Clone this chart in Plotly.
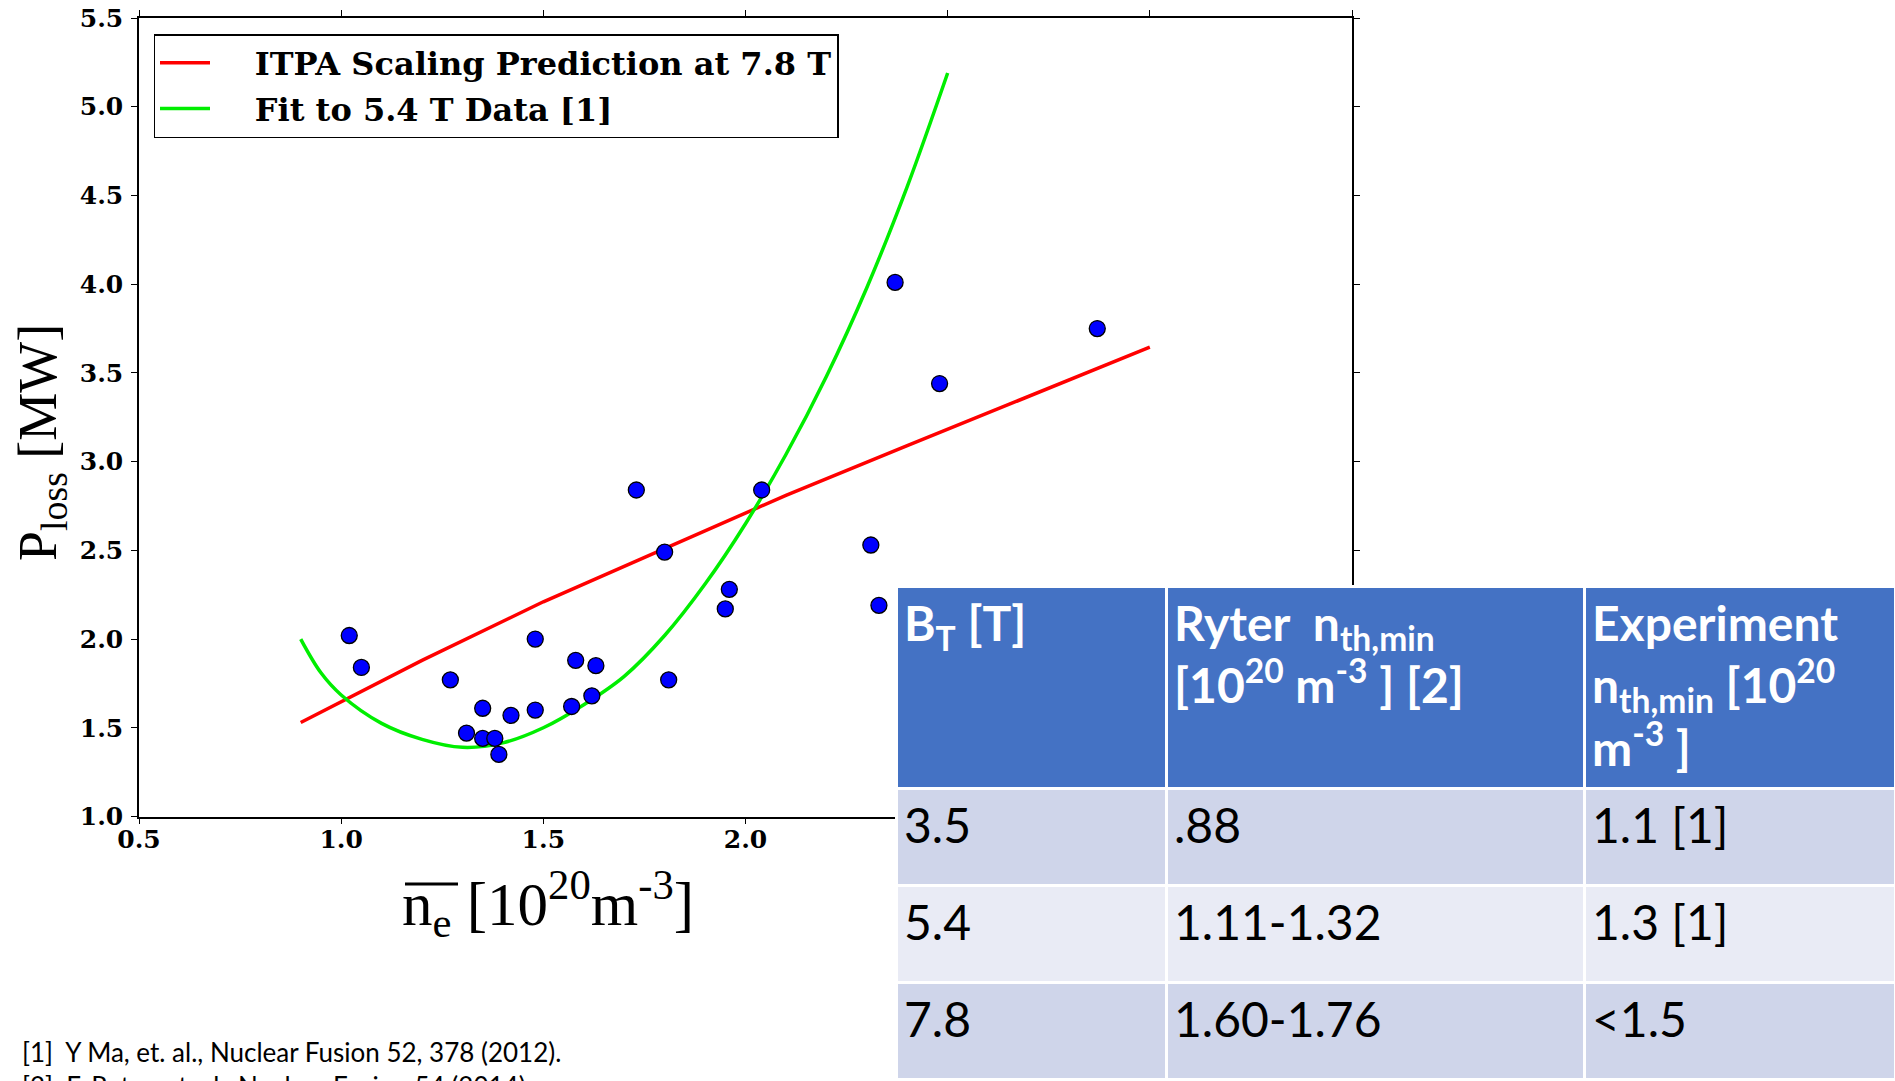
import plotly.graph_objects as go

W, H = 1895, 1081

# ---- data ----
ne_points = [1.02, 1.05, 1.27, 1.31, 1.35, 1.35, 1.38, 1.39, 1.42, 1.48, 1.48, 1.57, 1.58,
             1.62, 1.63, 1.73, 1.80, 1.81, 1.95, 1.96, 2.04, 2.31, 2.33, 2.37, 2.48, 2.87]
ploss_points = [2.02, 1.84, 1.77, 1.47, 1.61, 1.44, 1.44, 1.35, 1.57, 1.60, 2.00, 1.62, 1.88,
                1.68, 1.85, 2.84, 2.49, 1.77, 2.17, 2.28, 2.84, 2.53, 2.19, 4.01, 3.44, 3.75]

itpa_ne = [0.9, 1.2, 1.5, 1.8, 2.1, 2.4, 2.7, 3.0]
itpa_p = [1.53, 1.88, 2.21, 2.51, 2.81, 3.09, 3.37, 3.645]

fit_ne = [0.90, 0.95, 1.00, 1.10, 1.20, 1.30, 1.40, 1.50, 1.60, 1.70, 1.80, 1.90,
          2.00, 2.10, 2.20, 2.30, 2.40, 2.50]
fit_p = [2.00, 1.81, 1.685, 1.525, 1.435, 1.39, 1.415, 1.50, 1.63, 1.79, 2.02, 2.31,
         2.65, 3.04, 3.48, 3.98, 4.55, 5.19]

legend_names = ["ITPA Scaling Prediction at 7.8 T", "Fit to 5.4 T Data [1]"]

x_ticks = [0.5, 1.0, 1.5, 2.0, 2.5, 3.0, 3.5]
y_ticks = [1.0, 1.5, 2.0, 2.5, 3.0, 3.5, 4.0, 4.5, 5.0, 5.5]

table_header = ["B<sub>T</sub> [T]",
                "Ryter  n<sub>th,min</sub><br>[10<sup>20</sup> m<sup>-3</sup> ] [2]",
                "Experiment<br>n<sub>th,min</sub> [10<sup>20</sup><br>m<sup>-3</sup> ]"]
col_bt = ["3.5", "5.4", "7.8"]
col_ryter = [".88", "1.11-1.32", "1.60-1.76"]
col_exp = ["1.1 [1]", "1.3 [1]", "<1.5"]
row_fills = ["#CFD5EA", "#E9EBF5", "#CFD5EA"]

footnotes = ["[1]  Y Ma, et. al., Nuclear Fusion 52, 378 (2012).",
             "[2]  F. Ryter, et. al., Nuclear Fusion 54 (2014)."]

# ---- figure ----
fig = go.Figure()

NB = "\u00a0\u00a0\u00a0\u2009"
fig.add_trace(go.Scatter(x=itpa_ne, y=itpa_p, mode="lines", name=NB + legend_names[0],
                         legendgroup="a", line=dict(color="#FF0000", width=3.5)))
fig.add_trace(go.Scatter(x=fit_ne, y=fit_p, mode="lines", name=NB + legend_names[1],
                         legendgroup="b", line=dict(color="#00EE00", width=3.5, shape="spline")))
fig.add_trace(go.Scatter(x=ne_points, y=ploss_points, mode="markers", showlegend=False,
                         marker=dict(color="#0000FF", size=16, line=dict(color="black", width=1.3))))


def cell_html(items):
    return ["<span>" + s.replace("<", "&lt;") + "</span>" for s in items]


fig.add_trace(go.Table(
    domain=dict(x=[896 / W, 1.0], y=[0.0, 1 - 586 / H]),
    columnwidth=[270, 418, 311],
    header=dict(values=["<b>" + t + "</b>" for t in table_header], fill_color="#4472C4",
                line=dict(color="white", width=3), align="left", height=202,
                font=dict(family="Lato", size=48, color="white")),
    cells=dict(values=[cell_html(col_bt), cell_html(col_ryter), cell_html(col_exp)],
               fill_color=[row_fills] * 3,
               line=dict(color="white", width=3), align="left", height=97,
               font=dict(family="Lato", size=48, color="black")),
))

tickfont = dict(family="DejaVu Serif", size=25, color="black", weight="bold")
axis_common = dict(showgrid=False, zeroline=False, showline=True, linecolor="black",
                   linewidth=1.5, mirror="ticks", ticks="outside", ticklen=6,
                   tickwidth=1.2, tickcolor="black", tickfont=tickfont, automargin=False)
fig.update_layout(
    width=W, height=H, margin=dict(l=0, r=0, t=0, b=0, autoexpand=False),
    paper_bgcolor="white", plot_bgcolor="white",
    xaxis=dict(domain=[139 / W, 1352 / W], range=[0.5, 3.5], tickvals=x_ticks,
               ticktext=[f"{v:.1f}" for v in x_ticks], ticklabelstandoff=-6, **axis_common),
    yaxis=dict(domain=[1 - 816.5 / H, 1 - 18 / H], range=[1.0, 5.5], tickvals=y_ticks,
               ticktext=[f"{v:.1f}" for v in y_ticks], ticklabelstandoff=3, **axis_common),
    legend=dict(x=153.5 / W, y=1 - 34 / H, xanchor="left", yanchor="top",
                bgcolor="white", bordercolor="black", borderwidth=1.5,
                font=dict(family="DejaVu Serif", size=32, color="black", weight="bold"),
                traceorder="grouped", tracegroupgap=1, itemwidth=50),
    showlegend=True,
)

fig.add_annotation(text="P<sub>loss</sub> [MW]", xref="paper", yref="paper",
                   x=42 / W, y=1 - 443 / H, textangle=-90, showarrow=False,
                   xanchor="center", yanchor="middle",
                   font=dict(family="Liberation Serif", size=54, color="black"))
fig.add_annotation(text="n<sub>e</sub> [10<sup>20</sup>m<sup>-3</sup>]",
                   xref="paper", yref="paper", x=548 / W, y=1 - 903 / H, showarrow=False,
                   xanchor="center", yanchor="middle",
                   font=dict(family="Liberation Serif", size=61, color="black"))
# overline over the mean density symbol
fig.add_shape(type="line", xref="paper", yref="paper",
              x0=405 / W, x1=458 / W, y0=1 - 884 / H, y1=1 - 884 / H,
              line=dict(color="black", width=3))
fig.add_annotation(text="<br>".join(footnotes), xref="paper", yref="paper",
                   x=20 / W, y=1 - 1034 / H, showarrow=False, align="left",
                   xanchor="left", yanchor="top",
                   font=dict(family="Lato", size=26, color="black"))

fig.write_html("out.html")
